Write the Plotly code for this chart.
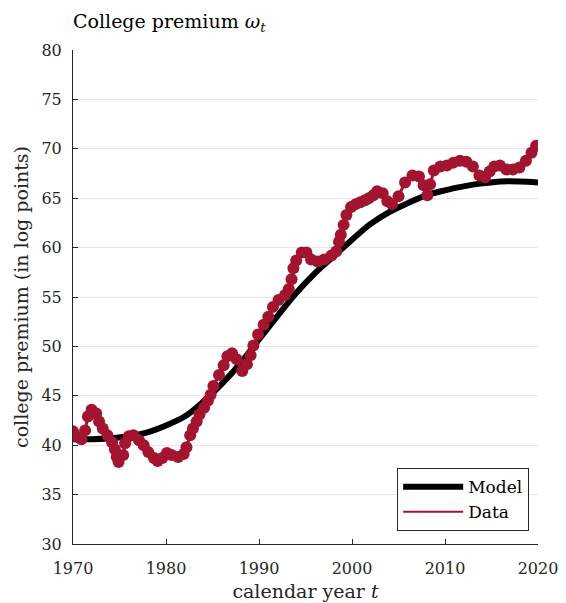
"""College premium: model path vs data (log points)."""
import plotly.graph_objects as go

# model path, read every two years
model_year = [1970, 1972, 1974, 1976, 1978, 1980, 1982, 1984, 1986, 1988, 1990, 1992, 1994,
              1996, 1998, 2000, 2002, 2004, 2006, 2008, 2010, 2012, 2014, 2016, 2018, 2020]
model_prem = [40.6, 40.6, 40.7, 40.9, 41.3, 42.0, 42.9, 44.4, 46.2, 48.3, 50.7, 53.1, 55.4,
              57.4, 59.1, 60.8, 62.4, 63.6, 64.5, 65.3, 65.8, 66.2, 66.5, 66.7, 66.7, 66.6]

data_year = [1970.0, 1970.3, 1970.9, 1971.3, 1971.6, 1972.0, 1972.5, 1972.8, 1973.2, 1973.7,
             1974.2, 1974.5, 1974.7, 1974.9, 1975.4, 1975.6, 1976.0, 1976.5, 1977.1, 1977.6,
             1978.1, 1978.7, 1979.1, 1979.6, 1980.1, 1980.6, 1981.3, 1981.9, 1982.2, 1982.6,
             1982.9, 1983.3, 1983.6, 1984.1, 1984.5, 1984.8, 1985.1, 1985.7, 1986.2, 1986.6,
             1987.1, 1987.6, 1988.2, 1988.7, 1989.1, 1989.4, 1989.9, 1990.5, 1991.0, 1991.5,
             1992.1, 1992.8, 1993.2, 1993.5, 1993.7, 1994.0, 1994.6, 1995.1, 1995.6, 1996.3,
             1997.0, 1997.8, 1998.3, 1998.6, 1998.8, 1999.1, 1999.4, 1999.9, 2000.4, 2000.9,
             2001.4, 2001.8, 2002.3, 2002.7, 2003.3, 2003.8, 2004.3, 2005.0, 2005.7, 2006.5,
             2007.2, 2007.7, 2008.1, 2008.4, 2008.8, 2009.5, 2010.2, 2010.9, 2011.6, 2012.3,
             2013.0, 2013.7, 2014.3, 2014.8, 2015.3, 2015.9, 2016.6, 2017.3, 2018.0, 2018.7,
             2019.3, 2019.8]
data_prem = [41.4, 40.9, 40.6, 41.5, 42.9, 43.6, 43.2, 42.4, 41.7, 41.0,
             40.3, 39.6, 38.8, 38.3, 39.0, 40.2, 40.9, 41.0, 40.5, 40.0,
             39.3, 38.7, 38.4, 38.7, 39.2, 39.0, 38.8, 39.1, 39.8, 41.0,
             41.7, 42.4, 43.1, 43.8, 44.5, 45.1, 46.0, 47.1, 48.1, 49.0,
             49.3, 48.7, 47.5, 48.2, 49.1, 50.1, 51.2, 52.2, 53.0, 54.0,
             54.7, 55.2, 55.8, 56.8, 57.9, 58.7, 59.5, 59.5, 58.8, 58.6,
             58.8, 59.2, 59.6, 60.6, 61.3, 62.3, 63.3, 64.1, 64.4, 64.6,
             64.8, 65.0, 65.3, 65.7, 65.5, 64.7, 64.4, 65.2, 66.6, 67.3,
             67.2, 66.3, 65.3, 66.4, 67.8, 68.2, 68.3, 68.6, 68.8, 68.7,
             68.2, 67.3, 67.1, 67.7, 68.2, 68.3, 67.9, 67.9, 68.1, 68.8,
             69.6, 70.3]

x_ticks = [1970, 1980, 1990, 2000, 2010, 2020]
y_ticks = [30, 35, 40, 45, 50, 55, 60, 65, 70, 75, 80]

CRIMSON = "#A2142F"
FONT = "DejaVu Serif"
AXIS = "#262626"

# the page body adds 8px top/left, so the figure is 8px smaller
W, H = 558, 595

fig = go.Figure()
fig.add_trace(go.Scatter(
    x=model_year, y=model_prem, mode="lines", name="Model",
    line=dict(color="black", width=6, shape="spline"),
))
fig.add_trace(go.Scatter(
    x=data_year, y=data_prem, mode="lines+markers", showlegend=False,
    line=dict(color=CRIMSON, width=3),
    marker=dict(color=CRIMSON, size=12),
))
# legend entry for the data: line only, like the original
fig.add_trace(go.Scatter(
    x=[None], y=[None], mode="lines", name="Data",
    line=dict(color=CRIMSON, width=2),
))

fig.update_layout(
    width=W, height=H, autosize=False,
    margin=dict(l=65, r=28, t=42, b=59),
    plot_bgcolor="white", paper_bgcolor="white",
    font=dict(family=FONT, size=16, color=AXIS),
    title=dict(text="College premium <i>ω</i><sub><i>t</i></sub>",
               x=65 / W, xanchor="left", y=1 - 13 / H, yanchor="middle",
               font=dict(family=FONT, size=19, color="black")),
    legend=dict(x=0.981, xanchor="right", y=0.026, yanchor="bottom",
                bgcolor="white", bordercolor=AXIS, borderwidth=1,
                itemwidth=60, font=dict(family=FONT, size=17, color="black"),
                tracegroupgap=0),
    showlegend=True,
)
fig.update_xaxes(
    range=[1970, 2020], tickvals=x_ticks, ticks="inside", ticklen=5,
    tickcolor=AXIS, showline=True, linecolor=AXIS, linewidth=1,
    showgrid=False, zeroline=False, tickfont=dict(size=16),
    ticklabelstandoff=10, automargin=False,
    title=dict(text="calendar year <i>t</i>", font=dict(size=19), standoff=7),
)
fig.update_yaxes(
    range=[30, 80], tickvals=y_ticks, ticks="inside", ticklen=5,
    tickcolor=AXIS, showline=True, linecolor=AXIS, linewidth=1,
    showgrid=True, gridcolor="#e6e6e6", gridwidth=1, zeroline=False,
    tickfont=dict(size=16), ticklabelstandoff=7, automargin=False,
    title=dict(text="college premium (in log points)", font=dict(size=19), standoff=7),
)

fig.write_html("out.html")
